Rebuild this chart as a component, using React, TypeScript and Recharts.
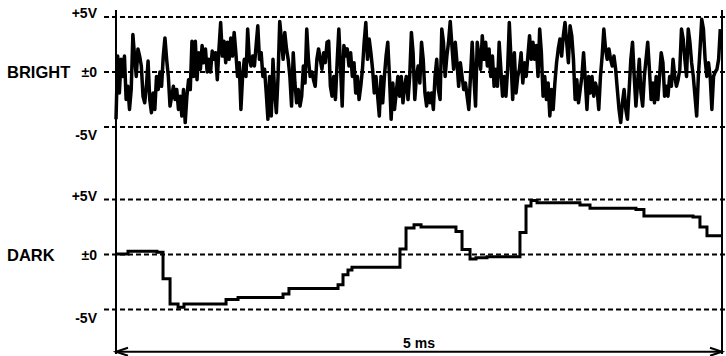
import { LineChart, Line, XAxis, YAxis, ReferenceLine } from "recharts";

// BRIGHT trace, volts, one sample every SAMPLE_MS ms
const brightV = [
  -4.3, 1.45, -1.9, 1.15, -0.4, 1.45, -2.5, -1.3, -3.4, -1.6, 3.4, 1.45, -0.4, 2.1, 1.45, 0.55, -2.2, -2.8, -1.3, 1.0,
  -2.5, -3.7, -1.9, -3.4, -0.4, -1.6, 0, -1.3, 1.45, 3.1, 1.15, -0.4, -3.1, -2.2, -1.3, -2.5, -1.6, -3.4, -2.2, -4.0,
  -1.6, -4.6, -2.2, -0.7, -1.6, 2.8, -0.4, 2.8, -0.7, 1.75, 0.25, 2.4, 0.85, 2.1,
  0, 1.15, 0, 1.9, 1.15, 1.75, -0.7, 2.1, 4.5, 1.45, 2.8, 0.85, 2.7, 1.15, 3.1, 1.45, 3.6, 1.75, -0.4, 0.85,
  -3.4, -0.4, 1.15, -0.4, 3.9, 1.15, 0.55, 1.45, 0.55, 2.4, 4.2, 1.15, 1.75, -0.4, 0.25, -1.9, -4.3, -0.4, -4.0, 1.15,
  -1.9, -3.7, -0.4, 4.6, 3.0, 1.15, 3.6, 2.1, 1.15, -0.4, -3.1, 1.75, -1.0, -2.8, -1.6, -3.1, -2.2, 0.55, -1.0,
  3.9, 1.15, -0.4, 0, -0.7, -1.3, 1.15, 2.1, 1.15, 0.25, 1.75, 0.85, 2.7, 2.8, -1.3, -2.2, -0.4, -2.5, 0.85, 3.9,
  0.55, -3.1, 2.4, 1.45, 2.1, 0.55, 1.75, -0.4, 0.85, -1.9, -0.4, -2.5, -1.3, 0.25, 2.7, 4.5, 1.15, 3.0, 1.75, 0.25,
  -1.9, -0.4, -2.2, -4.0, -0.4, -2.8, -0.4, 1.45, 2.7, -0.4, -4.3, -1.0, -3.4, -1.9, -0.4, -2.2, -0.4, -2.8, -1.3, -0.4,
  -2.5, -0.4, 3.6, 1.75, -2.5, -0.4, 0.55, -1.0, 2.7, 1.15, -1.9, -3.1, -1.9, -2.8, -1.9, -3.4, -0.4, 1.15, -1.6, -2.5,
  3.9, 2.7, -0.4, 1.45, 2.7, 4.6, 2.4, 0.25, 2.7, 0.85, -1.3, 0.85, -0.4, -1.6, -1.0, -2.2, -3.4, -0.4, 2.7, -0.4,
  -3.1, 2.7, 1.45, 0.25, 3.3, 1.15, 2.7, 0.55, 2.1, -0.4, 1.45, -1.3, 0.25, -1.3, 2.7, 0.25, -2.2, -0.4, -2.2, 0.25,
  4.5, 1.15, -2.5, 1.75, -1.9, -0.4, 0.25, 1.75, -1.0, 0.85, -0.4, 1.45, 3.3, 1.15, 2.7, 1.15, 2.4, -0.4, 3.9, 1.75,
  -2.2, -0.4, -2.5, -1.0, -4.0, -1.6, -3.4, -1.0, 0.85, 2.1, 3.0, 1.45, 3.3, 4.5, 2.7, 0.85, 4.2, 3.3, 1.15, -2.5,
  -0.7, -2.8, -1.6, -0.4, 1.75, -0.7, -3.4, -0.4, -1.9, -0.4, -2.2, -1.0, -1.6, -3.4, -0.4, 1.45, 3.9, 2.1, 1.15, 2.1,
  1.15, 0.55, 1.45, 0.25, -1.6, -3.4, -4.6, -2.8, -1.6, -3.4, -4.3, -1.6, 1.15, 2.7, -0.4, -3.1, -1.0, 1.15, -1.9, -3.1,
  -0.4, 1.15, 2.7, 0.25, -2.5, -1.0, -2.8, -0.4, -2.5, -0.4, 1.75, 0.85, -2.2, -1.3, -2.2, -0.4, -1.3, 1.15, -0.4, -1.3,
  -0.7, 0.25, 3.9, 3.0, 1.15, -0.4, 3.9, 2.7, 0.85, -0.4, -2.2, -4.0, -0.4, 2.1, 4.8, 3.9, 1.15, -0.4, 0.85, -0.4,
  -3.4, -0.4, 0, 0.25, 1.15, 3.9,
];
const SAMPLE_MS = 4.986 / (brightV.length - 1);

// DARK trace: step changes (ms, volts)
const darkT = [
  0, 0.099, 0.338, 0.388, 0.446, 0.512, 0.561, 0.908, 1.007, 1.378, 1.427, 1.832, 1.873, 1.914, 1.947, 2.343, 2.393,
  2.459, 2.517, 2.805, 2.855, 2.921, 2.97, 3.061, 3.333, 3.383, 3.424, 3.474, 3.828, 3.911, 4.29, 4.356, 4.761, 4.818,
  4.876, 5.0,
];
const darkV = [
  0.05, 0.3, 0.2, -2.2, -4.5, -4.8, -4.5, -4.1, -3.9, -3.6, -3.1, -2.75, -1.85, -1.4, -1.15, 0.5, 2.4, 2.7, 2.5, 2.1,
  0.45, -0.4, -0.3, -0.2, 2.0, 4.4, 4.9, 4.7, 4.5, 4.2, 4.1, 3.5, 3.4, 2.5, 1.7, 1.7,
];

const levels = [5, 0, -5];
const levelLabels = ["+5V", "±0", "-5V"];
const levelDy = [-3.5, 0, 8];
const SPAN_MS = 5;

const brightData = brightV.map((v, i) => ({ t: i * SAMPLE_MS, v }));
const darkData = darkT.map((t, i) => ({ t, v: darkV[i] }));

const FONT = "'Liberation Sans', Arial, Helvetica, sans-serif";

const levelLabel = (tick: string, dy: number, name?: string) => (props: any) => {
  const y = props.viewBox?.y ?? 0;
  return (
    <g fontFamily={FONT} fontWeight="bold" fill="#000">
      <text x={97} y={y + dy} textAnchor="end" dominantBaseline="central" fontSize={14}>
        {tick}
      </text>
      {name && (
        <text x={7} y={y} dominantBaseline="central" fontSize={16.5}>
          {name}
        </text>
      )}
    </g>
  );
};

const TimeArrow = (props: any) => {
  const { x1, x2, y1 } = props;
  return (
    <g stroke="#000" strokeWidth={2} fill="none">
      <line x1={x1} y1={y1} x2={x2} y2={y1} />
      <polyline points={`${x1 + 12},${y1 - 4} ${x1},${y1} ${x1 + 12},${y1 + 4}`} />
      <polyline points={`${x2 - 12},${y1 - 4} ${x2},${y1} ${x2 - 12},${y1 + 4}`} />
      <text
        x={(x1 + x2) / 2}
        y={y1 - 8.5}
        textAnchor="middle"
        dominantBaseline="central"
        stroke="none"
        fill="#000"
        fontFamily={FONT}
        fontWeight="bold"
        fontSize={14}
      >
        {SPAN_MS} ms
      </text>
    </g>
  );
};

export default function App() {
  return (
    <div style={{ position: "absolute", left: 0, top: 0, width: 726, height: 356, background: "#fff" }}>
      <LineChart width={726} height={356} margin={{ top: 10, right: 0, bottom: 2, left: 104 }}>
        <XAxis type="number" dataKey="t" domain={[-0.099, 5.033]} allowDataOverflow hide />
        <YAxis yAxisId="bright" type="number" domain={[-25.636, 5.636]} allowDataOverflow hide />
        <YAxis yAxisId="dark" type="number" domain={[-9.045, 22.227]} allowDataOverflow hide />

        {levels.map((lv, i) => (
          <ReferenceLine
            key={`b${lv}`}
            yAxisId="bright"
            y={lv}
            stroke="#000"
            strokeWidth={2}
            strokeDasharray="5 3"
            label={levelLabel(levelLabels[i], levelDy[i], lv === 0 ? "BRIGHT" : undefined)}
          />
        ))}
        {levels.map((lv, i) => (
          <ReferenceLine
            key={`d${lv}`}
            yAxisId="dark"
            y={lv}
            stroke="#000"
            strokeWidth={2}
            strokeDasharray="5 3"
            label={levelLabel(levelLabels[i], levelDy[i], lv === 0 ? "DARK" : undefined)}
          />
        ))}

        <ReferenceLine yAxisId="bright" x={0} stroke="#000" strokeWidth={2} />
        <ReferenceLine yAxisId="bright" x={SPAN_MS} stroke="#000" strokeWidth={2} />
        <ReferenceLine
          yAxisId="dark"
          segment={[
            { x: 0, y: -8.84 },
            { x: SPAN_MS, y: -8.84 },
          ]}
          ifOverflow="visible"
          shape={TimeArrow}
        />

        <Line
          yAxisId="bright"
          data={brightData}
          dataKey="v"
          type="linear"
          stroke="#000"
          strokeWidth={3.5}
          strokeLinejoin="round"
          dot={false}
          isAnimationActive={false}
        />
        <Line
          yAxisId="dark"
          data={darkData}
          dataKey="v"
          type="stepAfter"
          stroke="#000"
          strokeWidth={3}
          dot={false}
          isAnimationActive={false}
        />
      </LineChart>
    </div>
  );
}
